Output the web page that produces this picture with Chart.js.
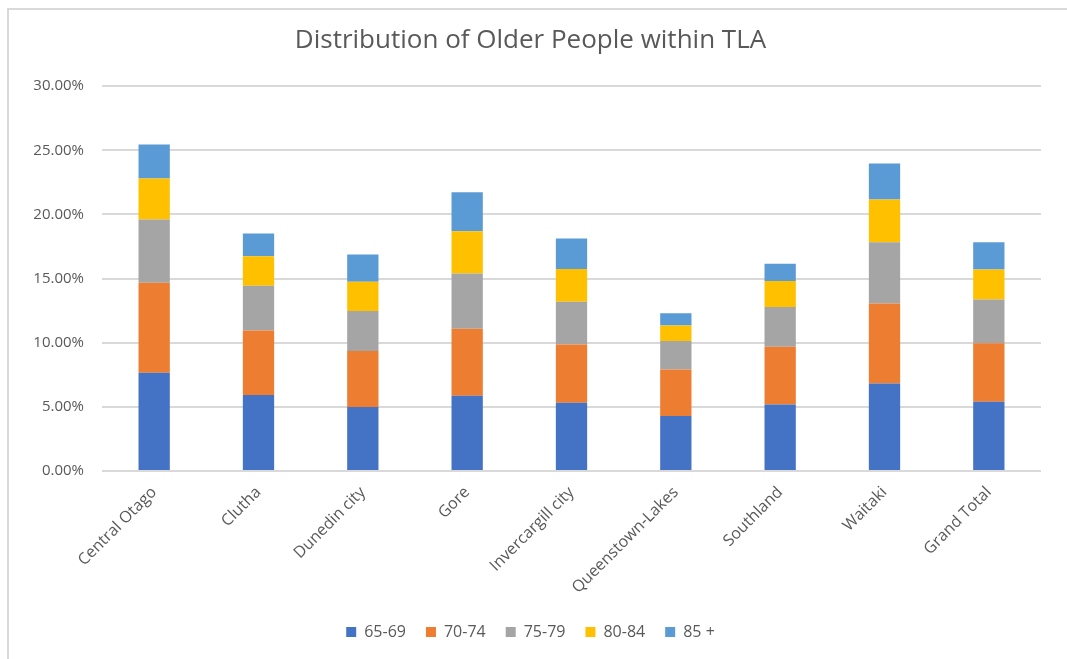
<!DOCTYPE html>
<html>
<head>
<meta charset="utf-8">
<script src="https://cdn.jsdelivr.net/npm/chart.js@4/dist/chart.umd.min.js"></script>
<style>
  html, body { margin: 0; padding: 0; background: #fff; overflow: hidden; }
  #wrap { position: relative; width: 1067px; height: 659px; }
  #frame {
    position: absolute; left: 7px; top: 8px; width: 1100px; height: 700px;
    border-left: 2px solid #d9d9d9; border-top: 2px solid #d9d9d9;
    pointer-events: none;
  }
  canvas { position: absolute; left: 0; top: 0; }
</style>
</head>
<body>
<div id="wrap">
  <canvas id="chart" width="1067" height="659"></canvas>
  <div id="frame"></div>
</div>
<script>
// TLA categories
const regions = ["Central Otago", "Clutha", "Dunedin city", "Gore", "Invercargill city",
                 "Queenstown-Lakes", "Southland", "Waitaki", "Grand Total"];

// share of population (%) per age band
const age65to69 = [7.66, 5.92, 4.99, 5.87, 5.32, 4.29, 5.19, 6.83, 5.40];
const age70to74 = [7.02, 5.04, 4.36, 5.22, 4.55, 3.63, 4.50, 6.23, 4.55];
const age75to79 = [4.93, 3.48, 3.12, 4.31, 3.32, 2.21, 3.09, 4.78, 3.43];
const age80to84 = [3.19, 2.31, 2.28, 3.30, 2.55, 1.22, 2.03, 3.33, 2.33];
const age85plus = [2.65, 1.77, 2.13, 3.04, 2.39, 0.94, 1.35, 2.80, 2.13];

const yTicks = [0, 5, 10, 15, 20, 25, 30];

const textColor = "#595959";
const gridColor = "#d9d9d9";
const fontFamily = "'Open Sans', sans-serif";

function series(label, data, color) {
    return {
        label: label,
        data: data,
        backgroundColor: color,
        borderWidth: 0,
        categoryPercentage: 1.0,
        barPercentage: 0.3,
    };
}

const data = {
    labels: regions,
    datasets: [
        series("65-69", age65to69, "#4472c4"),
        series("70-74", age70to74, "#ed7d31"),
        series("75-79", age75to79, "#a5a5a5"),
        series("80-84", age80to84, "#ffc000"),
        series("85 +", age85plus, "#5b9bd5"),
    ],
};

const options = {
    responsive: false,
    animation: false,
    layout: {
        padding: {left: 20, right: 26, top: 0, bottom: 9},
    },
    plugins: {
        title: {
            display: true,
            text: "Distribution of Older People within TLA",
            color: textColor,
            font: {family: fontFamily, size: 26, weight: "normal"},
            padding: {top: 25, bottom: 30},
        },
        legend: {
            position: "bottom",
            labels: {
                color: textColor,
                font: {family: fontFamily, size: 16},
                boxWidth: 10,
                boxHeight: 10,
                padding: 20,
            },
        },
        tooltip: {enabled: false},
    },
    scales: {
        x: {
            stacked: true,
            grid: {display: false},
            border: {display: false},
            ticks: {
                color: textColor,
                font: {family: fontFamily, size: 16},
                minRotation: 45,
                maxRotation: 45,
                padding: 4,
            },
            afterFit: (scale) => { scale.height = 133; },
        },
        y: {
            stacked: true,
            min: 0,
            max: 30,
            afterBuildTicks: (scale) => {
                scale.ticks = yTicks.map(v => ({value: v}));
            },
            grid: {color: gridColor, lineWidth: 2, drawTicks: false},
            border: {display: false},
            ticks: {
                color: textColor,
                font: {family: fontFamily, size: 15},
                padding: 18,
                callback: (v) => Number(v).toFixed(2) + "%",
            },
            afterFit: (scale) => { scale.width = 82; },
        },
    },
};

new Chart(document.getElementById("chart").getContext("2d"), {type: "bar", data, options});
</script>
</body>
</html>
